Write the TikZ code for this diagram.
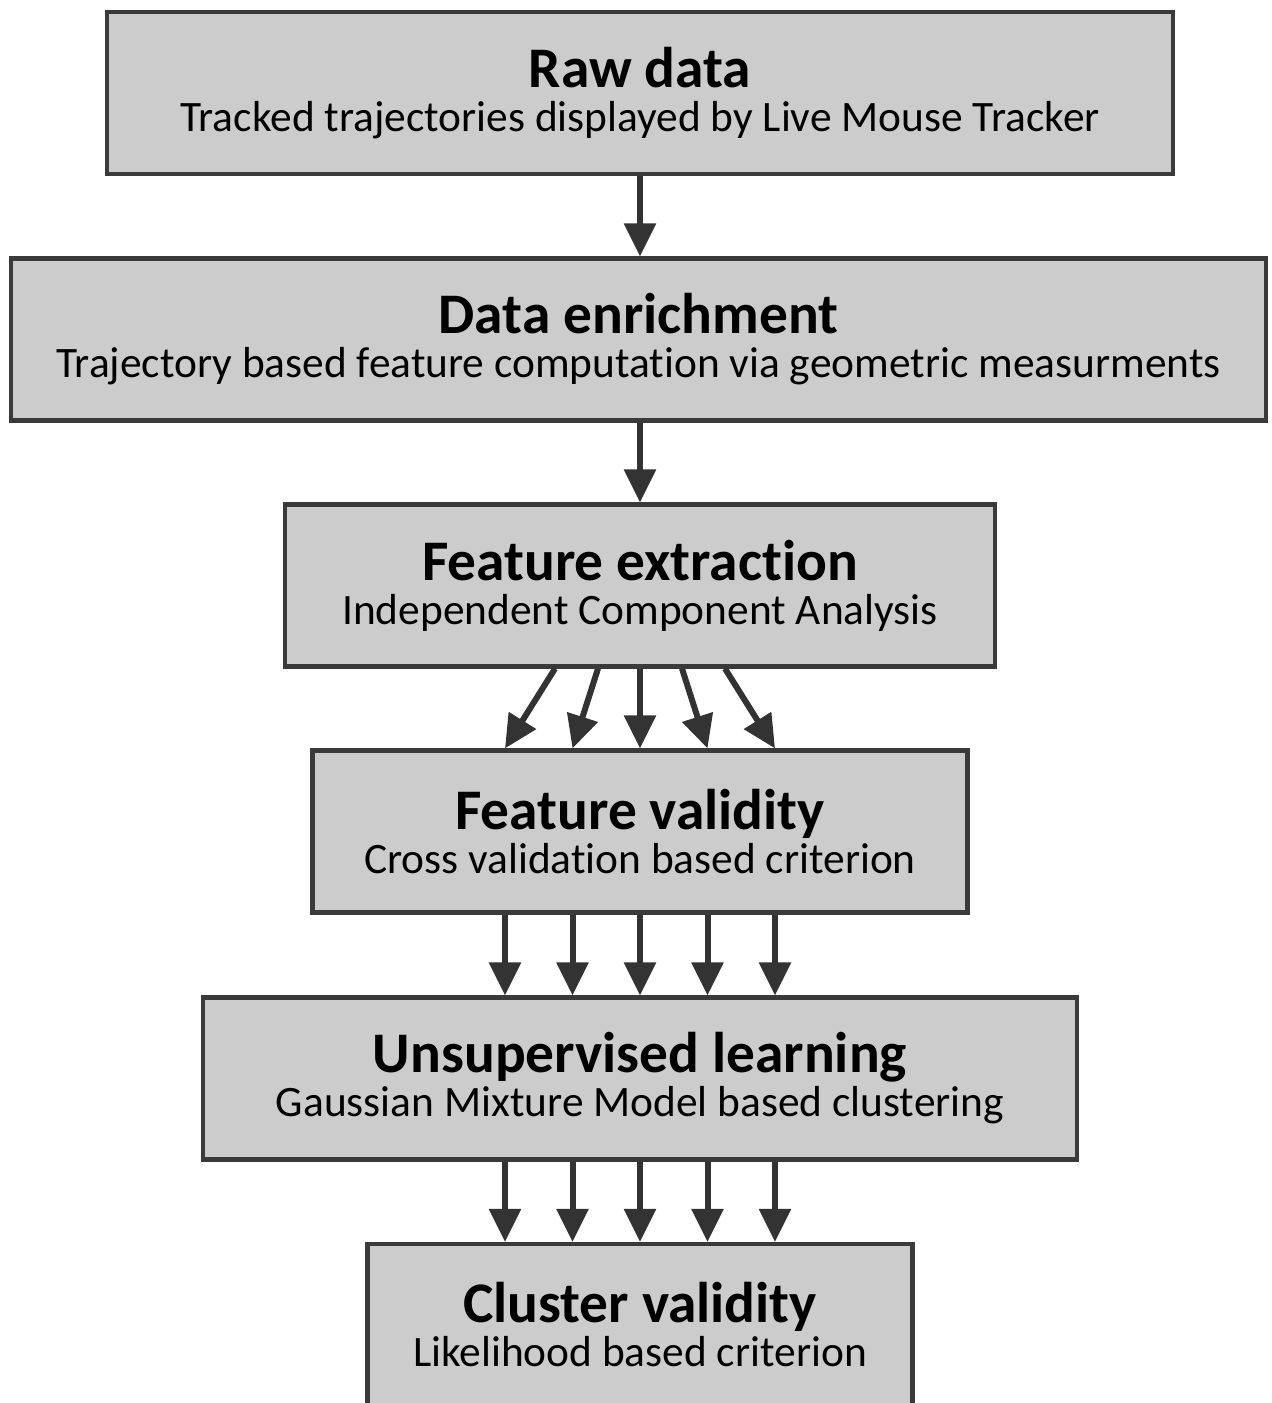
\documentclass[tikz,border=0pt]{standalone}
\usepackage{fontspec}
\setmainfont{Carlito}[Ligatures=CommonOff]
\usetikzlibrary{arrows.meta}
\definecolor{boxfill}{HTML}{CCCCCC}
\definecolor{boxline}{HTML}{3A3A3A}
\definecolor{arrline}{HTML}{333333}
\newcommand{\ttl}[1]{{\fontsize{28.7pt}{22pt}\selectfont\bfseries #1}}
\tikzset{
  stagebox/.style={draw=boxline, fill=boxfill, line width=2.1pt, inner sep=0pt,
    align=center, minimum height=81pt, text=black,
    font=\fontsize{21.7pt}{22pt}\selectfont},
  arr/.style={draw=arrline, line width=3pt,
    -{Triangle[length=16.5pt,width=15.5pt]}}
}
\begin{document}
\begin{tikzpicture}
\useasboundingbox (0,0) rectangle (635.5pt,-701.5pt);
\node[stagebox, minimum width=533pt] (raw) at (320pt,-46.5pt)
  {\ttl{Raw data}\\Tracked trajectories displayed by Live Mouse Tracker};
\node[stagebox, minimum width=627.5pt] (enr) at (319.25pt,-169.75pt)
  {\ttl{Data enrichment}\\Trajectory based feature computation via geometric measurments};
\node[stagebox, minimum width=355pt] (fe) at (320pt,-292.75pt)
  {\ttl{Feature extraction}\\Independent Component Analysis};
\node[stagebox, minimum width=327.5pt] (fv) at (320pt,-415.75pt)
  {\ttl{Feature validity}\\Cross validation based criterion};
\node[stagebox, minimum width=437pt] (ul) at (320pt,-539.25pt)
  {\ttl{Unsupervised learning}\\Gaussian Mixture Model based clustering};
\node[stagebox, minimum width=272.5pt] (cv) at (320pt,-662.5pt)
  {\ttl{Cluster validity}\\Likelihood based criterion};
\draw[arr] (raw.south) -- (raw.south |- enr.north);
\draw[arr] (fe.north |- enr.south) -- (fe.north);
\foreach \a/\b in {-42.5/-67.5, -21/-33.75, 0/0, 21/33.75, 42.5/67.5}
  \draw[arr] ([xshift=\a pt]fe.south) -- ([xshift=\b pt]fv.north);
\foreach \a in {-67.5, -33.75, 0, 33.75, 67.5}
  \draw[arr] ([xshift=\a pt]fv.south) -- ([xshift=\a pt]ul.north);
\foreach \a in {-67.5, -33.75, 0, 33.75, 67.5}
  \draw[arr] ([xshift=\a pt]ul.south) -- ([xshift=\a pt]cv.north);
\end{tikzpicture}
\end{document}
